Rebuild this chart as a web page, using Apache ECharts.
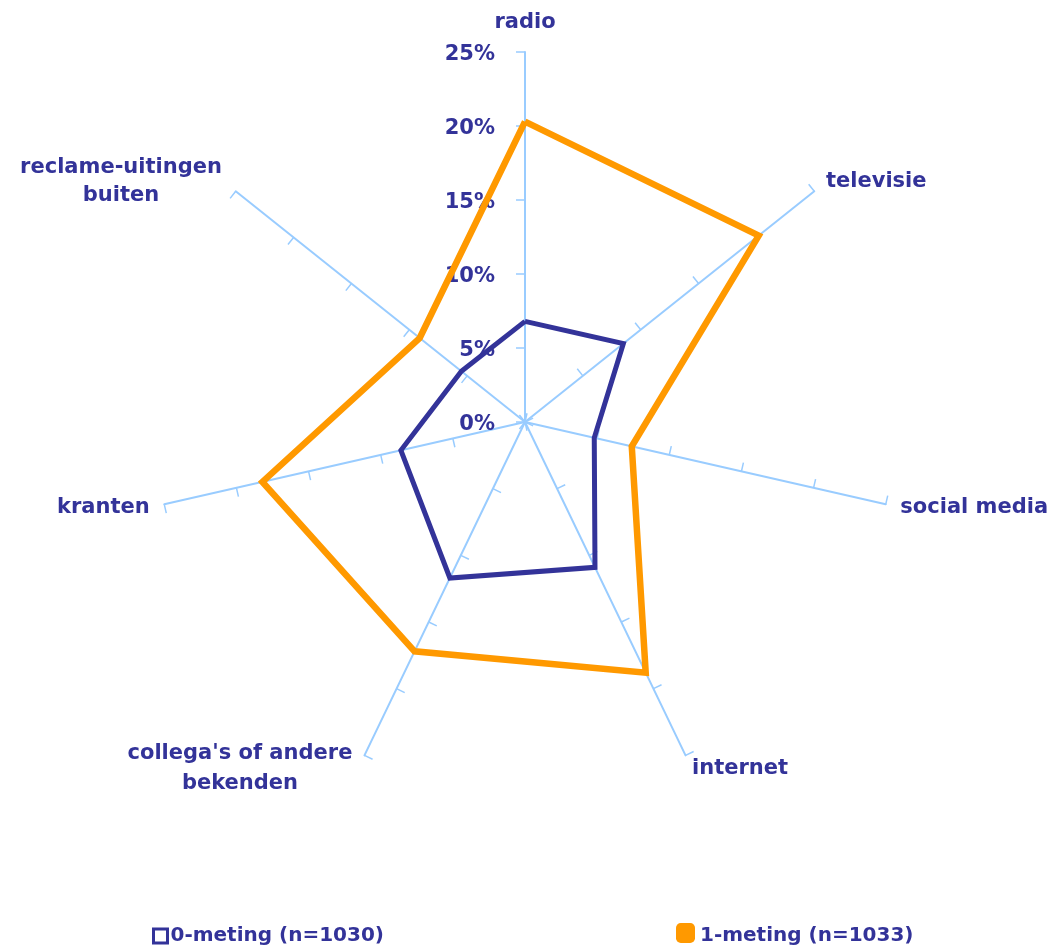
<!DOCTYPE html>
<html><head><meta charset="utf-8">
<script src="https://cdn.jsdelivr.net/npm/echarts@6/dist/echarts.min.js"></script>
<style>html,body{margin:0;padding:0;background:#fff}#c{width:1064px;height:950px}</style>
</head><body><div id="c"></div>
<script>
const categories = ['radio', 'televisie', 'social media', 'internet', "collega's of andere\nbekenden", 'kranten', 'reclame-uitingen\nbuiten'];
const seriesNames = ['0-meting (n=1030)', '1-meting (n=1033)'];
const meting0 = [6.8, 8.5, 4.8, 10.9, 11.7, 8.6, 5.5];
const meting1 = [20.3, 20.2, 7.4, 18.8, 17.2, 18.2, 9.1];
const axisMax = 25;
const tickLabels = ['0%', '5%', '10%', '15%', '20%', '25%'];

const NAVY = '#333399', ORANGE = '#FF9900', AXIS = '#99CCFF';
const FONT = 'DejaVu Sans';

// ECharts places indicators counter-clockwise; reorder for clockwise layout
const order = [0, 6, 5, 4, 3, 2, 1];
const richW = { 4: 236, 6: 206 };
const indicators = order.map(i => {
  const ind = { name: categories[i], max: axisMax, min: 0 };
  if (i === 0) ind.axisLabel = { show: true };
  return ind;
});

const txt = { color: NAVY, fontWeight: 'bold', fontFamily: FONT };

const nameStyle = Object.assign({}, txt, {
  fontSize: 21,
  formatter: function (name) {
    const idx = categories.indexOf(name);
    if (idx === 0) return '{top|' + name + '}';
    if (richW[idx]) return name.split('\n').map(l => '{w' + idx + '|' + l + '}').join('\n');
    return name;
  },
  rich: {
    top: Object.assign({}, txt, { fontSize: 21, padding: [0, 0, 4, 0] }),
    w4: Object.assign({}, txt, { fontSize: 21, width: richW[4], align: 'center', lineHeight: 30 }),
    w6: Object.assign({}, txt, { fontSize: 21, width: richW[6], align: 'center', lineHeight: 28 })
  }
});

const option = {
  backgroundColor: '#fff',
  animation: false,
  radar: {
    center: [525, 422], radius: 370, startAngle: 90, splitNumber: 5,
    shape: 'polygon',
    splitLine: { show: false }, splitArea: { show: false },
    indicator: indicators,
    nameGap: 15,
    axisName: nameStyle,
    axisLine: { show: true, lineStyle: { color: AXIS, width: 2 } },
    axisTick: { show: true, length: 9, lineStyle: { color: AXIS, width: 1.5 } },
    axisLabel: Object.assign({}, txt, {
      show: false, fontSize: 21, margin: 30,
      formatter: v => '{p|' + tickLabels[Math.round(v / 5)] + '}',
      rich: { p: Object.assign({}, txt, { fontSize: 21, padding: [6, 0, 0, 0] }) }
    })
  },
  legend: [
    {
      left: 152, top: 926, padding: 0, itemWidth: 14, itemHeight: 14, itemGap: 0,
      textStyle: Object.assign({}, txt, { fontSize: 20, padding: [0, 0, 0, -2] }),
      data: [{ name: seriesNames[0], icon: 'rect', itemStyle: { color: '#fff', borderColor: NAVY, borderWidth: 3 } }]
    },
    {
      left: 676, top: 923, padding: 0, itemWidth: 19, itemHeight: 20,
      formatter: n => '{l|' + n + '}',
      textStyle: Object.assign({}, txt, {
        fontSize: 20,
        rich: { l: Object.assign({}, txt, { fontSize: 20, padding: [6, 0, 0, 0] }) }
      }),
      data: [{ name: seriesNames[1], icon: 'roundRect', itemStyle: { color: ORANGE } }]
    }
  ],
  series: [
    {
      type: 'radar', name: seriesNames[1], symbol: 'none', z: 3,
      lineStyle: { color: ORANGE, width: 6.5, join: 'miter' }, itemStyle: { color: ORANGE },
      data: [{ name: seriesNames[1], value: order.map(i => meting1[i]) }]
    },
    {
      type: 'radar', name: seriesNames[0], symbol: 'none', z: 4,
      lineStyle: { color: NAVY, width: 5, join: 'miter' }, itemStyle: { color: NAVY },
      data: [{ name: seriesNames[0], value: order.map(i => meting0[i]) }]
    }
  ]
};
const chart = echarts.init(document.getElementById('c'));
chart.setOption(option);
</script></body></html>
